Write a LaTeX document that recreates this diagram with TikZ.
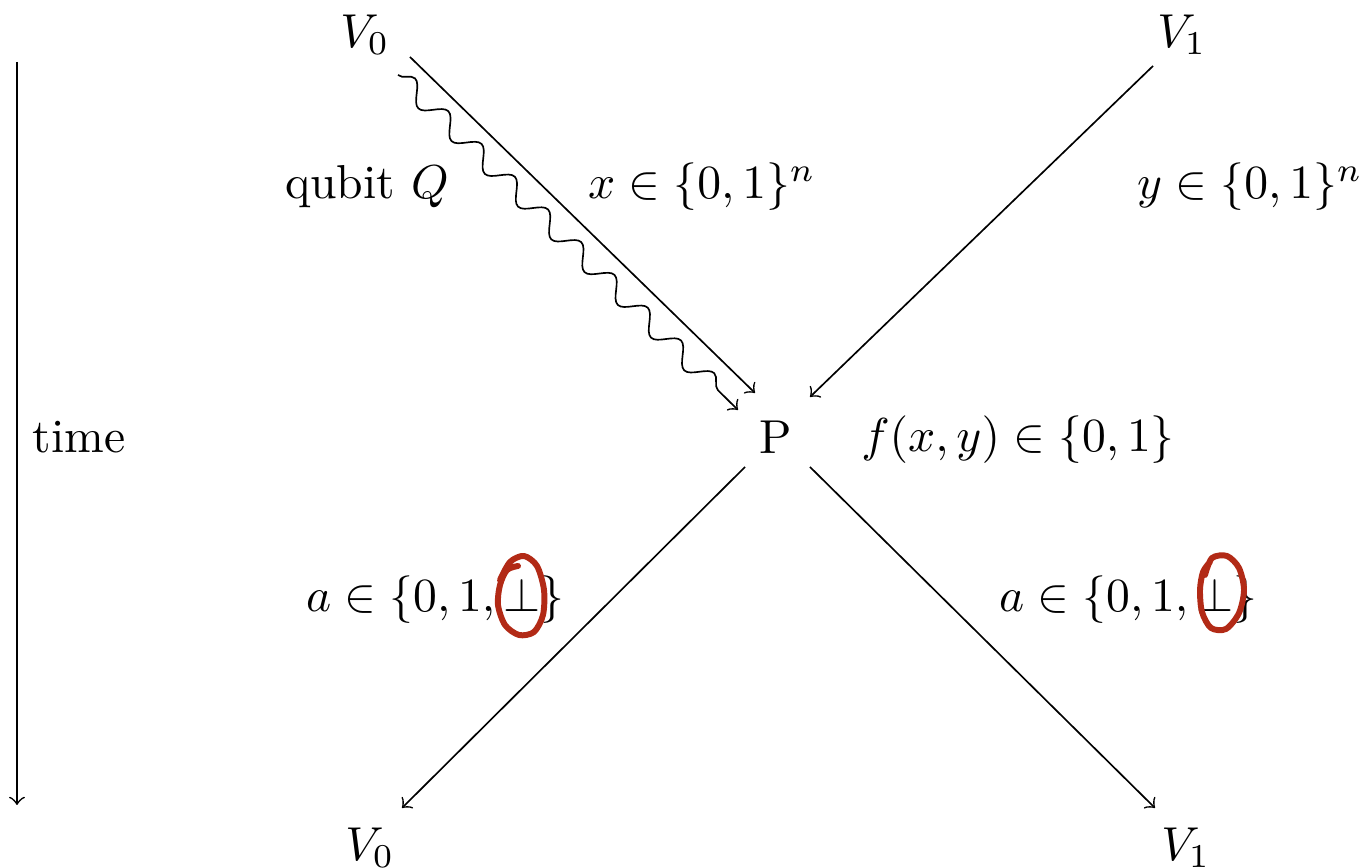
\documentclass[tikz,border=0pt]{standalone}
\usetikzlibrary{decorations.pathmorphing}
\definecolor{annot}{RGB}{178,42,22}
\begin{document}
\begin{tikzpicture}[x=0.21pt,y=-0.21pt,
  conn/.style={->,line width=0.35pt},
  wave/.style={->,line width=0.35pt,decorate,decoration={snake,segment length=9.8pt,amplitude=2pt,post length=1.6mm}},
  redcirc/.style={annot,line width=1.25pt,line cap=round,line join=round}]
\useasboundingbox (0,0) rectangle (1363,868);
% labels
\node (v0t) at (365,35) {$V_0$};
\node (v1t) at (1182,35) {$V_1$};
\node (v0b) at (370,848) {$V_0$};
\node (v1b) at (1186,848) {$V_1$};
\node (p) at (776,437) {P};
\node (time) at (79,437) {time};
\node (qub) at (367,187) {qubit $Q$};
\node (xl) at (702,187) {$x\in\{0,1\}^n$};
\node (yl) at (1250,187) {$y\in\{0,1\}^n$};
\node (fl) at (1018,440) {$f(x,y)\in\{0,1\}$};
\node (al) at (435,600) {$a\in\{0,1,\bot\}$};
\node (ar) at (1128,600) {$a\in\{0,1,\bot\}$};
% connector endpoints
\coordinate (a0) at (410,57);
\coordinate (a1) at (755,393);
\coordinate (w0) at (398,75);
\coordinate (w1) at (738,410);
\coordinate (b0) at (1153,66);
\coordinate (b1) at (810,397);
\coordinate (c0) at (745,467);
\coordinate (c1) at (402,808);
\coordinate (d0) at (810,467);
\coordinate (d1) at (1155,808);
\coordinate (t0) at (17,62);
\coordinate (t1) at (17,805);
\draw[conn] (a0) -- (a1);
\draw[wave] (w0) -- (w1);
\draw[conn] (b0) -- (b1);
\draw[conn] (c0) -- (c1);
\draw[conn] (d0) -- (d1);
\draw[conn] (t0) -- (t1);
% red hand-drawn circles
\draw[redcirc] plot[smooth] coordinates {(500,580) (510,562) (524,556) (537,566) (544,590) (543,615) (534,632) (519,635) (505,625) (498,605) (500,585) (507,570) (518,566)};
\draw[redcirc] plot[smooth] coordinates {(1205,575) (1212,558) (1227,556) (1239,568) (1244,590) (1239,613) (1226,629) (1211,628) (1202,612) (1200,590) (1203,572) (1210,562)};
\end{tikzpicture}
\end{document}
